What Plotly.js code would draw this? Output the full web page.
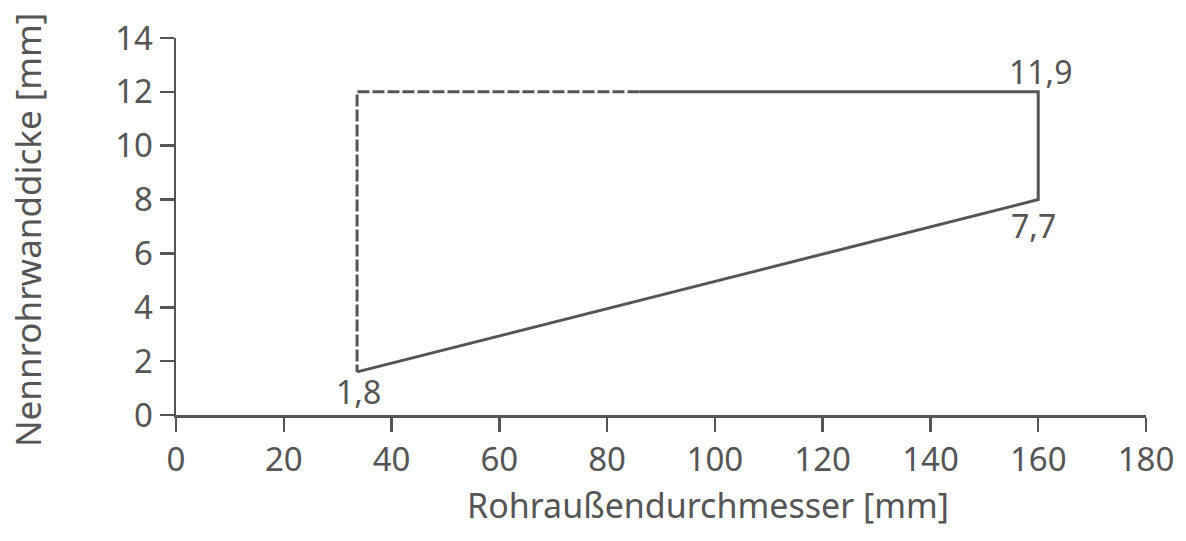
<!DOCTYPE html>
<html>
<head>
<meta charset="utf-8">
<script src="https://cdn.plot.ly/plotly-3.0.1.min.js"></script>
<style>html,body{margin:0;padding:0;background:#fff;}#chart{width:1186px;height:541px;}</style>
</head>
<body>
<div id="chart"></div>
<script>
// Region boundary (outer pipe diameter in mm, nominal wall thickness in mm)
var solidX = [33.6, 160, 160, 86];
var solidY = [1.6, 8.0, 12.0, 12.0];
var dashX = [86, 33.6, 33.6];
var dashY = [12.0, 12.0, 1.6];
// Corner value labels
var labelText = ["1,8", "7,7", "11,9"];
var labelX = [33.6, 160, 160];
var labelY = [1.6, 8.0, 12.0];
var xTicks = [0, 20, 40, 60, 80, 100, 120, 140, 160, 180];
var yTicks = [0, 2, 4, 6, 8, 10, 12, 14];

var col = '#555555';
var fnt = 'Noto Sans, DejaVu Sans, sans-serif';

var traces = [
  {x: solidX, y: solidY, mode: 'lines', line: {color: col, width: 3}, hoverinfo: 'skip', showlegend: false},
  {x: dashX, y: dashY, mode: 'lines', line: {color: col, width: 3, dash: '12px,3px'}, hoverinfo: 'skip', showlegend: false}
];

var shifts = [[1, -20], [-5, -26], [3, 20]];
var annotations = labelText.map(function(t, i) {
  return {x: labelX[i], y: labelY[i], xref: 'x', yref: 'y', text: t, showarrow: false,
    xanchor: 'center', yanchor: 'middle', xshift: shifts[i][0], yshift: shifts[i][1],
    font: {family: fnt, size: 32, color: col}};
});
var L = 176, R = 40, T = 38, B = 126, W = 1186, H = 541;
var pw = W - L - R, ph = H - T - B;
annotations.push({x: (708 - L) / pw, y: (H - B - 505) / ph, xref: 'paper', yref: 'paper',
  text: 'Rohraußendurchmesser [mm]', showarrow: false,
  font: {family: fnt, size: 34, color: col}, xanchor: 'center', yanchor: 'middle'});
annotations.push({x: (27 - L) / pw, y: (H - B - 230) / ph, xref: 'paper', yref: 'paper',
  text: 'Nennrohrwanddicke [mm]', showarrow: false, textangle: -90,
  font: {family: fnt, size: 35, color: col}, xanchor: 'center', yanchor: 'middle'});

var layout = {
  width: W, height: H,
  margin: {l: L, r: R, t: T, b: B, pad: 0},
  paper_bgcolor: '#ffffff', plot_bgcolor: '#ffffff',
  font: {family: fnt, color: col},
  xaxis: {range: [0, 180], tickvals: xTicks, ticktext: xTicks.map(String), showgrid: false, zeroline: false,
    showline: true, linecolor: col, linewidth: 2.5, ticks: 'outside', ticklen: 14, tickwidth: 2.5, tickcolor: col,
    tickfont: {family: fnt, size: 33, color: col}, fixedrange: true},
  yaxis: {range: [0, 14], tickvals: yTicks, ticktext: yTicks.map(String), showgrid: false, zeroline: false,
    showline: true, linecolor: col, linewidth: 2.5, ticks: 'outside', ticklen: 14, tickwidth: 2.5, tickcolor: col,
    tickfont: {family: fnt, size: 33, color: col}, fixedrange: true},
  annotations: annotations,
  showlegend: false
};
Plotly.newPlot('chart', traces, layout, {displayModeBar: false, staticPlot: true});
</script>
</body>
</html>
